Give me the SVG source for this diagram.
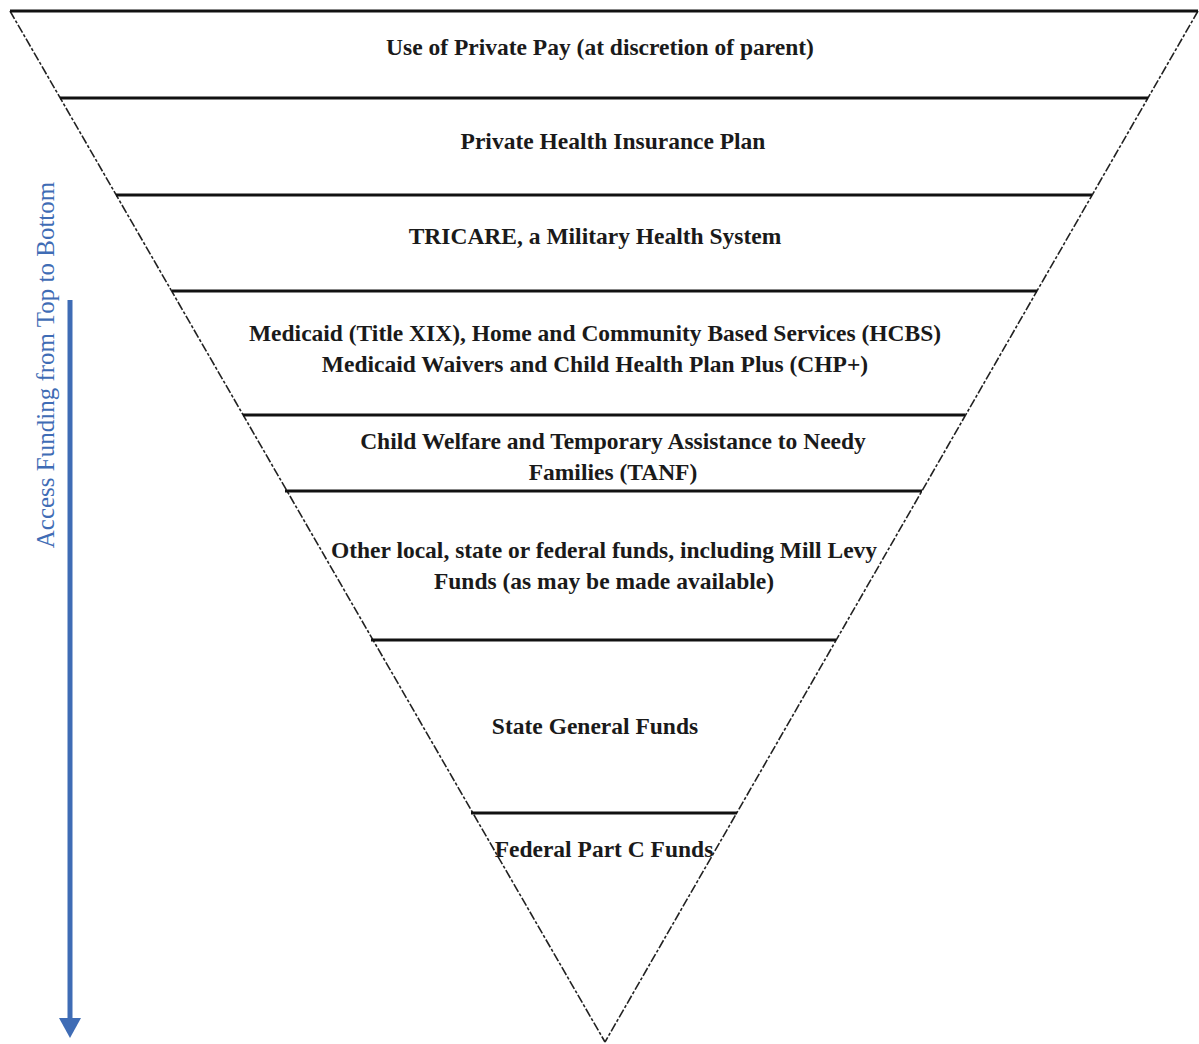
<svg xmlns="http://www.w3.org/2000/svg" width="1199" height="1044" viewBox="0 0 1199 1044">
<style>
.t{font-family:"Liberation Serif","Times New Roman",serif;font-size:23.5px;font-weight:bold;fill:#1a1a1a;text-anchor:middle}
.band{stroke:#111;stroke-width:3;fill:none}
.side{stroke:#222;stroke-width:1.6;stroke-dasharray:9 2 3 2;fill:none}
</style>
<rect width="1199" height="1044" fill="#fff"/>
<g id="edges">
<line class="side" x1="10" y1="11" x2="605" y2="1042"/>
<line class="side" x1="1198" y1="11" x2="605" y2="1042"/>
<line class="band" x1="10" y1="11" x2="1198" y2="11"/>
<line class="band" x1="60" y1="98" x2="1148" y2="98"/>
<line class="band" x1="116" y1="195" x2="1092" y2="195"/>
<line class="band" x1="172" y1="291" x2="1037" y2="291"/>
<line class="band" x1="243" y1="415" x2="965" y2="415"/>
<line class="band" x1="285" y1="491" x2="922" y2="491"/>
<line class="band" x1="371" y1="640" x2="836" y2="640"/>
<line class="band" x1="471" y1="813" x2="737" y2="813"/>
<line x1="70" y1="300" x2="70" y2="1022" stroke="#3f6cb5" stroke-width="5"/>
<polygon points="59,1018 81,1018 70,1038" fill="#3f6cb5"/>
</g>
<g id="n1"><text class="t" x="600" y="55">Use of Private Pay (at discretion of parent)</text></g>
<g id="n2"><text class="t" x="613" y="149">Private Health Insurance Plan</text></g>
<g id="n3"><text class="t" x="595" y="244">TRICARE, a Military Health System</text></g>
<g id="n4"><text class="t" x="595" y="341">Medicaid (Title XIX), Home and Community Based Services (HCBS)</text><text class="t" x="595" y="372">Medicaid Waivers and Child Health Plan Plus (CHP+)</text></g>
<g id="n5"><text class="t" x="613" y="449">Child Welfare and Temporary Assistance to Needy</text><text class="t" x="613" y="480">Families (TANF)</text></g>
<g id="n6"><text class="t" x="604" y="558">Other local, state or federal funds, including Mill Levy</text><text class="t" x="604" y="589">Funds (as may be made available)</text></g>
<g id="n7"><text class="t" x="595" y="734">State General Funds</text></g>
<g id="n8"><text class="t" x="604" y="857">Federal Part C Funds</text></g>
<g id="label"><text x="0" y="0" transform="translate(54,365) rotate(-90)" style="font-family:'Liberation Serif','Times New Roman',serif;font-size:25px;fill:#3f6cb5;text-anchor:middle">Access Funding from Top to Bottom</text></g>
</svg>
